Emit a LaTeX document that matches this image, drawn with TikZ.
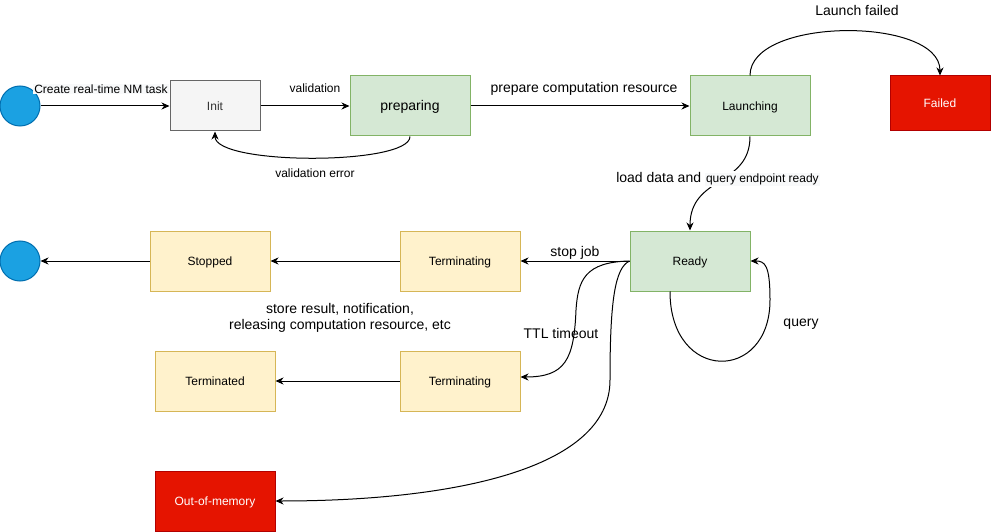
\documentclass[tikz,border=0pt]{standalone}
\usepackage{fontspec}
\setmainfont{Liberation Sans}
\usetikzlibrary{arrows.meta,calc}
\definecolor{gfill}{HTML}{D5E8D4}
\definecolor{gline}{HTML}{82B366}
\definecolor{yfill}{HTML}{FFF2CC}
\definecolor{yline}{HTML}{D6B656}
\definecolor{rfill}{HTML}{E51400}
\definecolor{rline}{HTML}{B20000}
\definecolor{grfill}{HTML}{F5F5F5}
\definecolor{grline}{HTML}{666666}
\definecolor{grtext}{HTML}{333333}
\definecolor{bfill}{HTML}{1BA1E2}
\definecolor{bline}{HTML}{006EAF}
\definecolor{lblbg}{HTML}{F8F9FA}
\begin{document}
\begin{tikzpicture}[x=1pt,y=-1pt,
  box/.style={draw, line width=1pt, minimum width=120pt, minimum height=60pt, inner sep=0pt, font=\fontsize{12}{14}\selectfont, text height=10.9pt, text depth=2.5pt},
  greenbox/.style={box, fill=gfill, draw=gline},
  yellowbox/.style={box, fill=yfill, draw=yline},
  redbox/.style={box, fill=rfill, draw=rline, text=white},
  graybox/.style={box, fill=grfill, draw=grline, text=grtext},
  circ/.style={circle, fill=bfill, draw=bline, line width=1pt, minimum size=40pt, inner sep=0pt},
  conn/.style={draw, line width=1pt, -{Stealth[length=8pt,width=7pt,inset=2.5pt]}},
  lbl/.style={font=\fontsize{14}{16}\selectfont, inner sep=1pt},
  slbl/.style={font=\fontsize{12}{14}\selectfont, inner sep=1pt}]
\useasboundingbox (0,0) rectangle (991,532);

% nodes
\node[circ] (start) at (20,106) {};
\node[graybox, minimum width=90pt, minimum height=50pt] (init) at (215,106) {Init};
\node[greenbox, font=\fontsize{14}{16}\selectfont, text height=12.7pt, text depth=3pt] (prep) at (410,106) {preparing};
\node[greenbox] (launch) at (750,106) {Launching};
\node[redbox, minimum width=100pt, minimum height=55pt] (failed) at (940,103.5) {Failed};
\node[greenbox] (ready) at (690,261) {Ready};
\node[yellowbox] (term1) at (460,261) {Terminating};
\node[yellowbox] (stopped) at (210,261) {Stopped};
\node[circ] (end) at (20,261) {};
\node[yellowbox] (term2) at (460,381) {Terminating};
\node[yellowbox] (termd) at (215,381) {Terminated};
\node[redbox] (oom) at (215,501) {Out-of-memory};

% connectors
\draw[conn] (start) -- (init);
\draw[conn] (init) -- (prep);
\draw[conn] (prep) -- (launch);
\draw[conn] (prep.south) .. controls ($(prep.south)+(0,29)$) and ($(init.south)+(0,34)$) .. (init.south);
\draw[conn] (launch.north) .. controls ($(launch.north)+(0,-59)$) and ($(failed.north)+(0,-59)$) .. (failed.north);
\draw[conn] (launch.south) .. controls ($(launch.south)+(0,50)$) and ($(ready.north)+(0,-55)$) .. (ready.north);
\draw[conn] (ready) -- (term1);
\draw[conn] (term1) -- (stopped);
\draw[conn] (stopped) -- (end);
\draw[conn] (term2) -- (termd);
\coordinate (ttlmid) at (576,310);
\draw[conn] (ready.west) .. controls (585,262) and (578,280) .. (ttlmid)
  .. controls (574,360) and (565,377) .. ($(term2.east)+(0,-4)$);
\coordinate (oommid) at (610,380);
\draw[conn] (ready.west) .. controls (615,268) and (610,300) .. (oommid)
  .. controls (610,470) and (450,501) .. (oom.east);
\coordinate (qright) at (770,300);
\draw[conn] ($(ready.south)+(-20,0)$) .. controls (670,383) and (770,383) .. (qright)
  .. controls (770,265) and (765,261) .. (ready.east);

% labels
\node[slbl, fill=lblbg] (lcreate) at (101,89) {Create real-time NM task};
\node[slbl] (lval) at (315,88) {validation};
\node[slbl] (lvalerr) at (315,173) {validation error};
\node[lbl] (lprep) at (584,89) {prepare computation resource};
\node[lbl] (lfail) at (857,10) {Launch failed};
\node[lbl, fill=white] (lload) at (718,179) {load data and {\fontsize{12}{14}\selectfont\setlength{\fboxsep}{1pt}\colorbox{lblbg}{query endpoint ready}}};
\node[lbl] (lstop) at (575,253) {stop job};
\node[lbl] (lttl) at (561,333) {TTL timeout};
\node[lbl] (lquery) at (801,324) {query};
\node[lbl, align=center] (lstore) at (340,318) {store result, notification,\\releasing computation resource, etc};
\end{tikzpicture}
\end{document}
